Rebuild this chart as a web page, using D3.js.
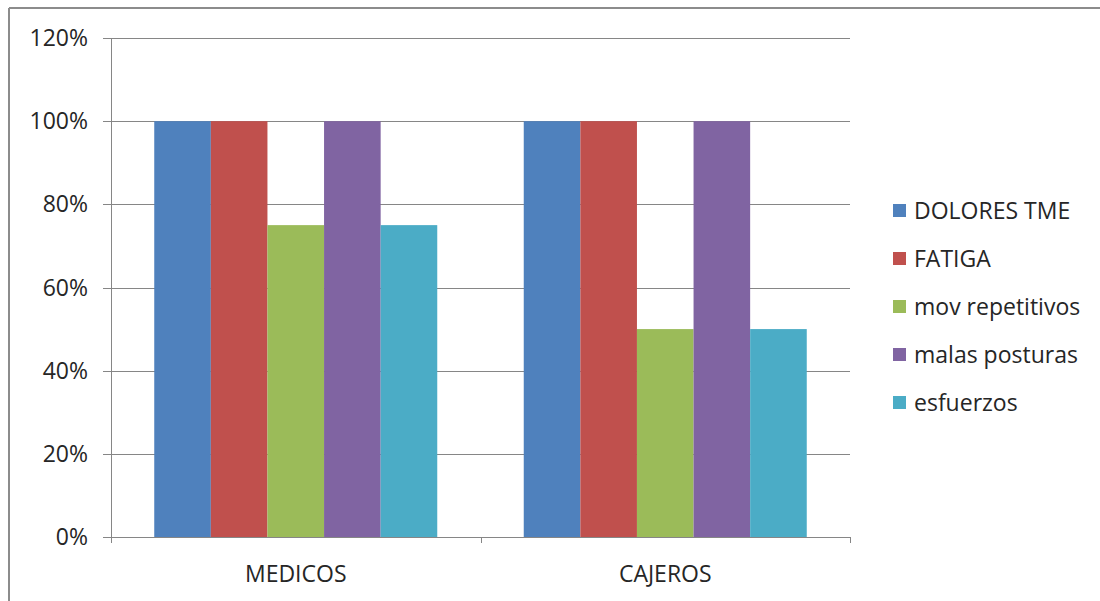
<!DOCTYPE html>
<html><head><meta charset="utf-8">
<script src="https://cdn.jsdelivr.net/npm/d3@7"></script>
<style>html,body{margin:0;padding:0;background:#fff;}svg{display:block;}</style>
</head><body>
<script>
const categories = ["MEDICOS", "CAJEROS"];
const seriesNames = ["DOLORES TME", "FATIGA", "mov repetitivos", "malas posturas", "esfuerzos"];
const dolores = [1.00, 1.00];
const fatiga = [1.00, 1.00];
const movRepetitivos = [0.75, 0.50];
const malasPosturas = [1.00, 1.00];
const esfuerzos = [0.75, 0.50];
const seriesColors = ["#4F81BD", "#C0504D", "#9BBB59", "#8064A2", "#4BACC6"];
const yTicks = [0, 0.2, 0.4, 0.6, 0.8, 1.0, 1.2];

(function () {
const seriesValues = [dolores, fatiga, movRepetitivos, malasPosturas, esfuerzos];
const W = 1100, H = 601;
const svg = d3.select("body").append("svg").attr("width", W).attr("height", H);
const font = "'Open Sans', sans-serif";
const fs = 23;
const txt = "#262626";
const grid = "#868686";

// outer frame (top & left visible)
svg.append("line").attr("x1", 9).attr("x2", W).attr("y1", 8).attr("y2", 8).attr("stroke", "#8c8c8c").attr("stroke-width", 2);
svg.append("line").attr("x1", 9).attr("x2", 9).attr("y1", 8).attr("y2", H).attr("stroke", "#8c8c8c").attr("stroke-width", 2);

const pLeft = 111, pRight = 850, pTop = 38, pBottom = 537;
const y = d3.scaleLinear().domain([0, 1.2]).range([pBottom, pTop]);
const x0 = d3.scaleBand().domain(categories).range([pLeft, pRight]).padding(0);
const x1 = d3.scaleBand().domain(seriesNames).range([0, x0.bandwidth()]).paddingInner(0).paddingOuter(0.764);

// gridlines
svg.append("g").selectAll("line").data(yTicks).join("line")
  .attr("x1", pLeft - 8).attr("x2", pRight)
  .attr("y1", d => Math.round(y(d)) + 0.5).attr("y2", d => Math.round(y(d)) + 0.5)
  .attr("stroke", grid).attr("stroke-width", 1);

// y labels
svg.append("g").selectAll("text").data(yTicks).join("text")
  .attr("x", 88).attr("y", d => y(d)).attr("dy", "0.35em")
  .attr("text-anchor", "end").attr("font-family", font).attr("font-size", fs).attr("fill", txt)
  .text(d => d3.format(".0%")(d));

// y axis line
svg.append("line").attr("x1", pLeft + 0.5).attr("x2", pLeft + 0.5).attr("y1", pTop).attr("y2", pBottom)
  .attr("stroke", grid);

// bars
const groups = svg.append("g").selectAll("g").data(categories).join("g")
  .attr("transform", c => `translate(${x0(c)},0)`);
groups.selectAll("rect").data((c, ci) => seriesNames.map((s, si) => ({s, si, v: seriesValues[si][ci]})))
  .join("rect")
  .attr("x", d => x1(d.s)).attr("width", x1.bandwidth())
  .attr("y", d => y(d.v)).attr("height", d => y(0) - y(d.v))
  .attr("fill", d => seriesColors[d.si]);

// x axis
svg.append("line").attr("x1", pLeft).attr("x2", pRight).attr("y1", pBottom + 0.5).attr("y2", pBottom + 0.5).attr("stroke", grid);
const xTickPos = [pLeft, ...categories.slice(1).map(c => x0(c)), pRight];
svg.append("g").selectAll("line").data(xTickPos).join("line")
  .attr("x1", d => Math.round(d) + 0.5).attr("x2", d => Math.round(d) + 0.5)
  .attr("y1", pBottom).attr("y2", pBottom + 6).attr("stroke", grid);
svg.append("g").selectAll("text").data(categories).join("text")
  .attr("x", c => x0(c) + x0.bandwidth() / 2).attr("y", 574).attr("dy", "0.35em")
  .attr("text-anchor", "middle").attr("font-family", font).attr("font-size", fs).attr("fill", txt)
  .text(c => c);

// legend
const legendY = d3.scalePoint().domain(seriesNames).range([211, 403]);
const lg = svg.append("g").selectAll("g").data(seriesNames).join("g")
  .attr("transform", s => `translate(893,${legendY(s)})`);
lg.append("rect").attr("x", 0).attr("y", -7).attr("width", 13).attr("height", 13)
  .attr("fill", (s, i) => seriesColors[i]);
lg.append("text").attr("x", 21).attr("y", 0).attr("dy", "0.35em")
  .attr("font-family", font).attr("font-size", fs).attr("fill", txt).text(s => s);
})();
</script>
</body></html>
